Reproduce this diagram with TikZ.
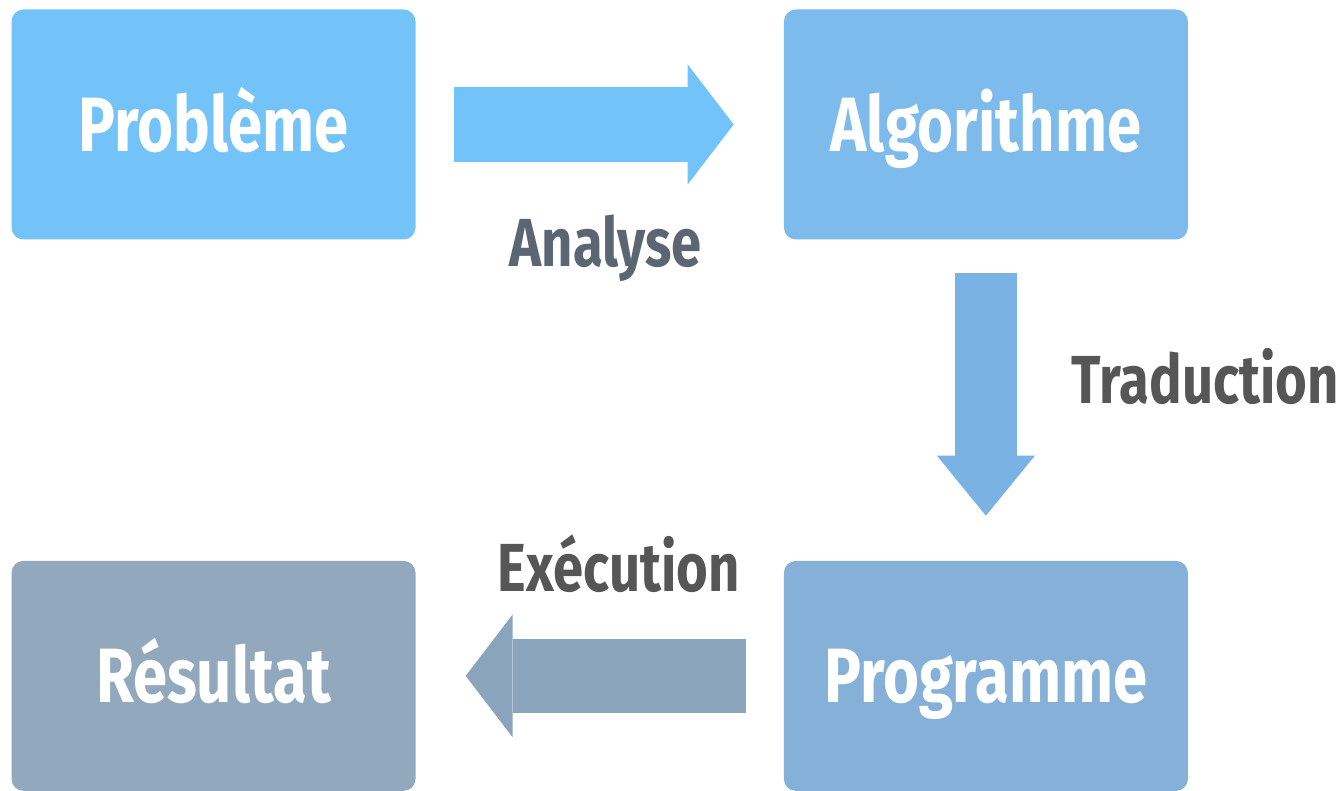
\documentclass[tikz,border=0pt]{standalone}
\usepackage{fontspec}
\setmainfont{Fira Sans}
\newfontfamily\boxfont{Fira Sans}[FakeStretch=0.8]
\usetikzlibrary{arrows.meta,positioning}
\definecolor{probblue}{HTML}{74C3F8}
\definecolor{algoblue}{HTML}{7DBBEC}
\definecolor{progblue}{HTML}{85B1D9}
\definecolor{resgrey}{HTML}{92A8BD}
\definecolor{arrowone}{HTML}{72C3FA}
\definecolor{arrowtwo}{HTML}{7AB3E3}
\definecolor{arrowthree}{HTML}{8AA4BC}
\definecolor{labelblue}{HTML}{5C6673}
\definecolor{labelgrey}{HTML}{565656}
\tikzset{
  stage/.style     = {rounded corners=12pt, minimum width=404pt, minimum height=230pt,
                      text=white, inner sep=0pt, text height=54pt, text depth=0pt,
                      font=\boxfont\bfseries\fontsize{77}{77}\selectfont},
  steplabel/.style = {inner sep=0pt, outer sep=0pt,
                      font=\boxfont\bfseries\fontsize{68}{68}\selectfont},
  flowright/.style = {draw=arrowone, line width=75pt, shorten <=38pt, shorten >=50pt,
                      -{Triangle[length=46pt, width=120pt, line width=0pt]}},
  flowdown/.style  = {draw=arrowtwo, line width=62pt, shorten <=33pt, shorten >=45pt,
                      -{Triangle[length=60pt, width=98pt, line width=0pt]}},
  flowleft/.style  = {draw=arrowthree, line width=74pt, shorten <=38pt, shorten >=50pt,
                      -{Triangle[length=47pt, width=123pt, line width=0pt]}},
}

\begin{document}
\begin{tikzpicture}[x=1pt,y=1pt]
    \useasboundingbox (0,0) rectangle (1341,791);
    \node[stage,fill=probblue] (pb) at (213.5,666.5) {Problème};
    \node[stage,fill=algoblue,right=368pt of pb] (al) {Algorithme};
    \node[stage,fill=progblue,below=321pt of al] (pg) {Programme};
    \node[stage,fill=resgrey,left=368pt of pg] (rs) {Résultat};
    \draw[flowright] (pb) -- node[steplabel,text=labelblue,below=90pt,xshift=6pt] (an) {Analyse} (al);
    \draw[flowdown] (al) -- node[steplabel,text=labelgrey,right=86pt,yshift=24pt] (tr) {Traduction} (pg);
    \draw[flowleft] (pg) -- node[steplabel,text=labelgrey,above=83.5pt,xshift=19pt] (ex) {Exécution} (rs);
  \end{tikzpicture}
\end{document}
